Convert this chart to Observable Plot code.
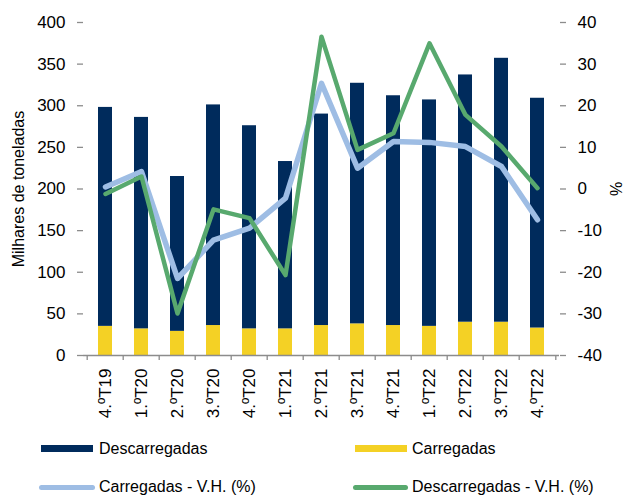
<!DOCTYPE html>
<html><head><meta charset="utf-8">
<script src="https://cdn.jsdelivr.net/npm/d3@7"></script>
<script src="https://cdn.jsdelivr.net/npm/@observablehq/plot@0.6"></script>
<style>
body{margin:0;background:#fff;font-family:"Liberation Sans",Arial,sans-serif;}
#chart{position:relative;width:625px;height:495px;overflow:hidden;background:#fff}
#chart svg{position:absolute;left:0;top:0}
.lg{position:absolute;font-size:16px;color:#000;white-space:nowrap;line-height:16px}
.sw{position:absolute}
</style></head><body><div id="chart"></div>
<script>
const quarters = ["4.ºT19","1.ºT20","2.ºT20","3.ºT20","4.ºT20","1.ºT21","2.ºT21","3.ºT21","4.ºT21","1.ºT22","2.ºT22","3.ºT22","4.ºT22"];
const carregadas = [35, 32, 29, 36, 32, 32, 36, 38, 36, 35, 40, 40, 33];
const descarregadas = [263, 254, 186, 265, 244, 201, 254, 289, 276, 272, 297, 317, 276];
const carregadasVH = [0.5, 4.2, -21.5, -12.3, -9.4, -2.2, 25.4, 5.0, 11.4, 11.2, 10.2, 5.4, -7.4];
const descarregadasVH = [-1.2, 3.0, -29.9, -4.9, -7.0, -20.7, 36.6, 9.4, 13.4, 35.0, 17.8, 10.2, 0.2];
const leftTicks = [0, 50, 100, 150, 200, 250, 300, 350, 400];

const colNavy = "#002B5C", colYellow = "#F4D125", colBlue = "#9EBDE4", colGreen = "#58A96E", axisCol = "#8c8c8c";

const bars = [
  ...quarters.map((q, i) => ({q, serie: "Carregadas", v: carregadas[i]})),
  ...quarters.map((q, i) => ({q, serie: "Descarregadas", v: descarregadas[i]}))
];
const toLeft = p => (p + 40) * 5; // map % (-40..40) onto left scale (0..400)
const lineC = quarters.map((q, i) => ({q, p: carregadasVH[i]}));
const lineD = quarters.map((q, i) => ({q, p: descarregadasVH[i]}));

const plot = Plot.plot({
  width: 625, height: 425,
  marginLeft: 83, marginRight: 66, marginTop: 22, marginBottom: 70,
  style: {fontFamily: "'Liberation Sans', Arial, sans-serif", fontSize: "17px", color: "#000", background: "#fff"},
  x: {type: "band", domain: quarters, paddingInner: 0.6, paddingOuter: 0.3},
  y: {domain: [0, 400]},
  color: {domain: ["Carregadas", "Descarregadas"], range: [colYellow, colNavy]},
  marks: [
    Plot.barY(bars, {x: "q", y: "v", fill: "serie", order: ["Carregadas", "Descarregadas"]}),
    Plot.ruleY([0], {stroke: axisCol, strokeWidth: 1.3}),
    Plot.ruleX(quarters, {x: d => d, y1: 0, y2: -6, dx: -18.3, stroke: axisCol, strokeWidth: 1.3}),
    Plot.ruleX(quarters.slice(-1), {x: d => d, y1: 0, y2: -6, dx: 18.3, stroke: axisCol, strokeWidth: 1.3}),
    Plot.axisY({anchor: "left", ticks: leftTicks, tickSize: 6, tickPadding: 12, label: null, line: true, stroke: axisCol, strokeWidth: 1.3, fontSize: 17}),
    Plot.axisY({anchor: "right", ticks: leftTicks, tickFormat: d => String(d / 5 - 40), tickSize: 6, tickPadding: 12, label: null, line: true, stroke: axisCol, strokeWidth: 1.3, fontSize: 17}),
    Plot.axisX({tickSize: 0, tickRotate: -90, tickPadding: 13, label: null, fontSize: 17}),
    Plot.line(lineC, {x: "q", y: d => toLeft(d.p), stroke: colBlue, strokeWidth: 5.5}),
    Plot.line(lineD, {x: "q", y: d => toLeft(d.p), stroke: colGreen, strokeWidth: 4.5}),
    Plot.text(["Milhares de toneladas"], {text: d => d, frameAnchor: "left", textAnchor: "middle", dx: -65, rotate: -90, fontSize: 16, fill: "#000"}),
    Plot.text(["%"], {text: d => d, frameAnchor: "right", textAnchor: "middle", dx: 57, rotate: -90, fontSize: 16, fill: "#000"})
  ]
});
const chart = document.getElementById("chart");
chart.appendChild(plot);

function addSwatch(x, y, w, h, color, radius) {
  const s = document.createElement("div");
  s.className = "sw";
  Object.assign(s.style, {left: x + "px", top: y + "px", width: w + "px", height: h + "px", background: color, borderRadius: radius + "px"});
  chart.appendChild(s);
}
function addLabel(x, yc, text) {
  const t = document.createElement("div");
  t.className = "lg";
  t.textContent = text;
  t.style.left = x + "px";
  t.style.top = (yc - 8) + "px";
  chart.appendChild(t);
}
addSwatch(41, 445, 52, 7, colNavy, 0);
addLabel(99, 448.5, "Descarregadas");
addSwatch(355, 445, 52, 7, colYellow, 0);
addLabel(412, 448.5, "Carregadas");
addSwatch(39, 484.5, 56, 5, colBlue, 3);
addLabel(99, 487, "Carregadas - V.H. (%)");
addSwatch(353, 484.5, 55, 5, colGreen, 3);
addLabel(412, 487, "Descarregadas - V.H. (%)");
</script>
</body></html>
